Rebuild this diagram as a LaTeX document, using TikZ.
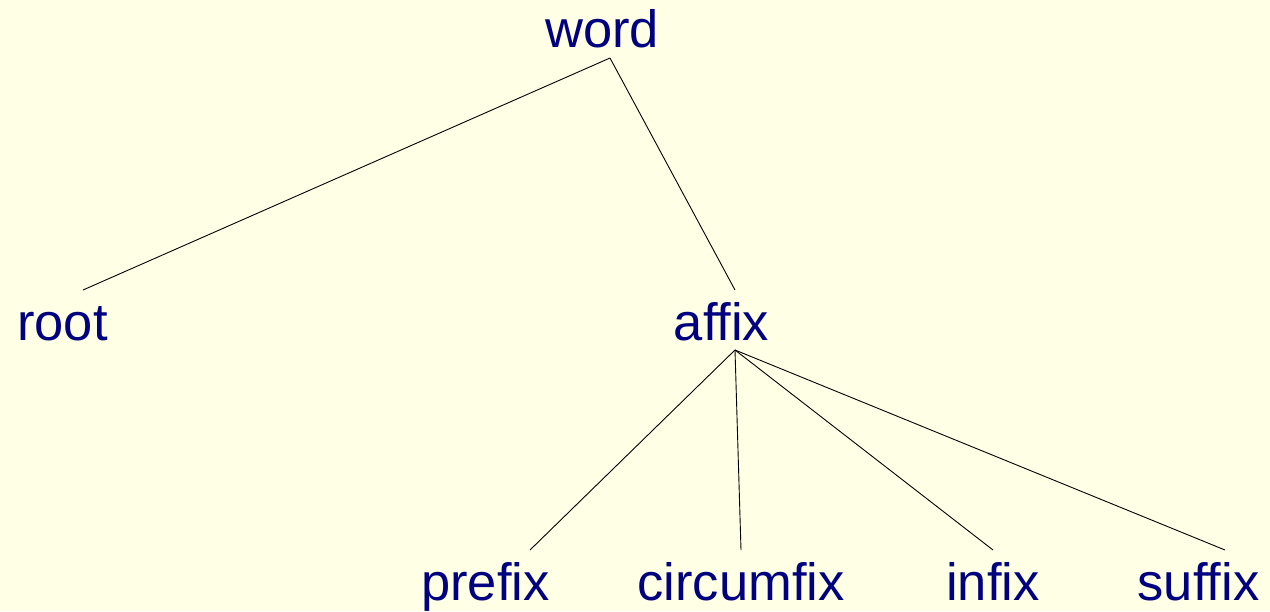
\documentclass[tikz,border=0pt]{standalone}
\usepackage{fontspec}
\setmainfont{Liberation Sans}
\definecolor{bgyellow}{RGB}{255,255,230}
\definecolor{labelblue}{RGB}{0,0,128}
\tikzset{
  lbl/.style={anchor=base, inner sep=0pt, text=labelblue,
    font=\fontsize{52.5}{60}\selectfont},
  branch/.style={draw=black, line width=0.9pt}
}
\begin{document}
\begin{tikzpicture}[x=1pt, y=-1pt]
    \fill[bgyellow] (0,0) rectangle (1270,611);
    \useasboundingbox (0,0) rectangle (1270,611);
    % labels
    \node[lbl] (word) at (602,47) {word};
    \node[lbl] (root) at (62.5,340) {root};
    \node[lbl] (affix) at (721.5,340) {affix};
    \node[lbl] (prefix) at (485.5,600) {prefix};
    \node[lbl] (circumfix) at (741,600) {circumfix};
    \node[lbl] (infix) at (993,600) {infix};
    \node[lbl] (suffix) at (1198.5,600) {suffix};
    % joints
    \coordinate (word-foot) at (610,58);
    \coordinate (root-top) at (83,290);
    \coordinate (affix-top) at (735,290);
    \coordinate (affix-foot) at (735,350);
    \coordinate (prefix-top) at (530,550);
    \coordinate (circumfix-top) at (741,550);
    \coordinate (infix-top) at (993,550);
    \coordinate (suffix-top) at (1225,550);
    % branches
    \draw[branch] (word-foot) -- (root-top);
    \draw[branch] (word-foot) -- (affix-top);
    \foreach \leaf in {prefix, circumfix, infix, suffix}
      \draw[branch] (affix-foot) -- (\leaf-top);
\end{tikzpicture}
\end{document}
